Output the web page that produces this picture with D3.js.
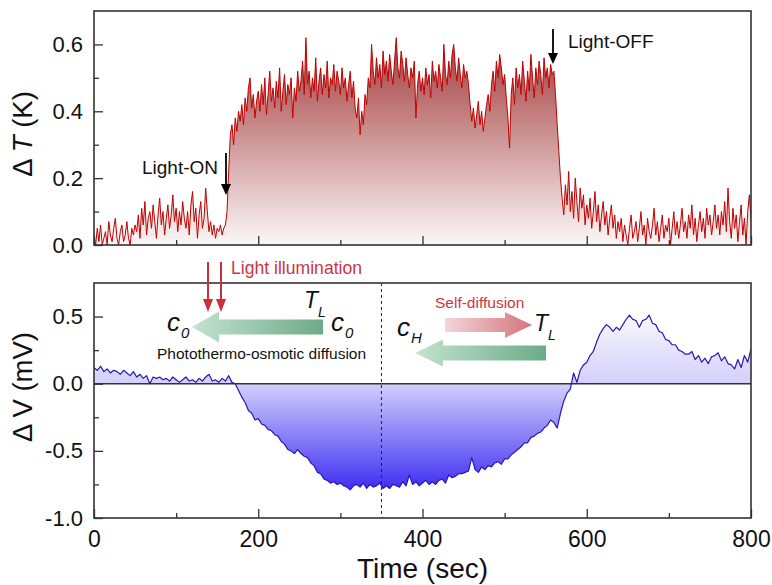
<!DOCTYPE html>
<html><head><meta charset="utf-8">
<script src="https://cdn.jsdelivr.net/npm/d3@7"></script>
<style>
html,body{margin:0;padding:0;background:#fff;}
svg{display:block;font-family:"Liberation Sans",Arial,sans-serif;}
</style></head>
<body>
<svg id="chart" width="772" height="585"></svg>
<script>
// ---------------- DATA ----------------
// Temperature change ΔT (K), sampled every 2 s from 0 to 800 s (rows of 20 s)
const dtStep = 2;
const deltaT = [
0.03,0.00,0.05,0.01,0.06,0.00,0.02,0.04,0.00,0.07,
0.03,0.01,0.05,0.08,0.02,0.00,0.04,0.06,0.01,0.03,
0.07,0.02,0.00,0.05,0.03,0.06,0.04,0.09,0.02,0.11,
0.06,0.13,0.03,0.08,0.10,0.05,0.12,0.07,0.02,0.09,
0.14,0.06,0.10,0.03,0.08,0.12,0.05,0.09,0.15,0.07,
0.11,0.04,0.10,0.06,0.13,0.08,0.05,0.10,0.03,0.12,
0.16,0.07,0.11,0.02,0.09,0.13,0.05,0.08,0.17,0.10,
0.04,0.07,0.03,0.06,0.02,0.05,0.04,0.06,0.03,0.05,
0.06,0.10,0.22,0.33,0.36,0.30,0.38,0.34,0.40,0.37,
0.42,0.36,0.44,0.40,0.47,0.50,0.41,0.45,0.38,0.43,
0.46,0.40,0.48,0.42,0.50,0.39,0.45,0.52,0.43,0.47,
0.41,0.49,0.44,0.53,0.40,0.46,0.51,0.42,0.48,0.45,
0.50,0.38,0.47,0.43,0.52,0.46,0.49,0.55,0.45,0.62,
0.48,0.52,0.44,0.50,0.46,0.56,0.43,0.49,0.53,0.45,
0.51,0.47,0.55,0.44,0.50,0.48,0.54,0.46,0.52,0.49,
0.45,0.53,0.47,0.50,0.43,0.48,0.52,0.44,0.49,0.41,
0.38,0.44,0.33,0.40,0.36,0.45,0.42,0.50,0.47,0.60,
0.52,0.48,0.56,0.50,0.54,0.47,0.58,0.51,0.55,0.49,
0.57,0.52,0.48,0.55,0.62,0.53,0.50,0.58,0.54,0.49,
0.56,0.51,0.47,0.53,0.50,0.55,0.38,0.48,0.52,0.46,
0.50,0.45,0.53,0.48,0.51,0.44,0.55,0.49,0.52,0.47,
0.54,0.50,0.46,0.60,0.51,0.48,0.55,0.50,0.57,0.60,
0.53,0.49,0.56,0.51,0.47,0.54,0.50,0.52,0.48,0.42,
0.37,0.41,0.35,0.39,0.43,0.36,0.40,0.34,0.38,0.42,
0.45,0.40,0.48,0.52,0.46,0.55,0.50,0.57,0.53,0.48,
0.51,0.44,0.38,0.29,0.45,0.50,0.42,0.53,0.47,0.51,
0.45,0.55,0.49,0.43,0.52,0.46,0.57,0.50,0.44,0.53,
0.48,0.55,0.51,0.45,0.56,0.50,0.53,0.47,0.54,0.51,
0.52,0.45,0.36,0.28,0.20,0.14,0.09,0.18,0.12,0.22,
0.10,0.16,0.08,0.20,0.13,0.07,0.17,0.11,0.15,0.06,
0.12,0.08,0.14,0.05,0.10,0.16,0.07,0.12,0.04,0.09,
0.13,0.06,0.10,0.03,0.08,0.12,0.05,0.09,0.02,0.07,
0.04,0.08,0.01,0.06,0.03,0.00,0.05,0.09,0.02,0.04,
0.07,0.01,0.05,0.10,0.03,0.06,0.00,0.08,0.04,0.02,
0.06,0.11,0.03,0.07,0.01,0.05,0.09,0.02,0.06,0.04,
0.08,0.00,0.05,0.10,0.03,0.07,0.02,0.06,0.11,0.04,
0.07,0.02,0.09,0.05,0.12,0.03,0.08,0.01,0.06,0.10,
0.04,0.08,0.02,0.11,0.06,0.09,0.03,0.07,0.12,0.05,
0.09,0.03,0.10,0.06,0.13,0.04,0.17,0.07,0.02,0.11,
0.05,0.09,0.01,0.07,0.12,0.03,0.08,0.00,0.10,0.15,
0.08
];
// Voltage change ΔV (mV), sampled every 4 s from 0 to 800 s (rows of 40 s)
const dvStep = 4;
const deltaV = [
0.12,0.10,0.13,0.09,0.11,0.08,0.10,0.09,0.07,0.10,
0.08,0.06,0.09,0.05,0.07,0.04,0.06,0.00,0.05,0.04,
0.05,0.03,0.04,0.02,0.05,0.03,0.01,0.03,0.05,0.02,
0.03,0.01,0.04,0.02,0.05,0.07,0.02,0.03,0.01,0.04,
0.02,0.06,0.01,0.00,-0.05,-0.10,-0.14,-0.20,-0.22,-0.27,
-0.26,-0.30,-0.31,-0.34,-0.35,-0.38,-0.39,-0.43,-0.45,-0.49,
-0.50,-0.52,-0.49,-0.52,-0.54,-0.55,-0.59,-0.61,-0.66,-0.67,
-0.71,-0.72,-0.74,-0.73,-0.75,-0.74,-0.76,-0.77,-0.79,-0.76,
-0.75,-0.77,-0.74,-0.78,-0.75,-0.77,-0.76,-0.74,-0.78,-0.76,
-0.78,-0.75,-0.76,-0.77,-0.73,-0.76,-0.68,-0.75,-0.73,-0.76,
-0.74,-0.72,-0.75,-0.73,-0.75,-0.72,-0.71,-0.74,-0.68,-0.70,
-0.69,-0.67,-0.67,-0.66,-0.65,-0.55,-0.64,-0.66,-0.62,-0.64,
-0.61,-0.62,-0.59,-0.58,-0.60,-0.56,-0.56,-0.53,-0.51,-0.49,
-0.47,-0.44,-0.44,-0.40,-0.39,-0.37,-0.36,-0.33,-0.31,-0.27,
-0.29,-0.33,-0.22,-0.13,-0.07,-0.04,0.08,0.01,0.10,0.14,
0.16,0.21,0.24,0.31,0.37,0.41,0.44,0.42,0.39,0.42,
0.40,0.44,0.48,0.51,0.48,0.47,0.42,0.47,0.48,0.51,
0.45,0.44,0.39,0.38,0.33,0.32,0.29,0.29,0.25,0.24,
0.22,0.22,0.24,0.18,0.21,0.16,0.19,0.15,0.20,0.21,
0.23,0.17,0.20,0.15,0.14,0.11,0.18,0.12,0.21,0.16,
0.26
];
const xTicks = [0, 200, 400, 600, 800];
const xMinorTicks = [100, 300, 500, 700];
const tTicks = [0.0, 0.2, 0.4, 0.6];
const tMinorTicks = [0.1, 0.3, 0.5];
const vTicks = [-1.0, -0.5, 0.0, 0.5];
const vMinorTicks = [-0.75, -0.25, 0.25];
const dividerTime = 350;

// ---------------- LAYOUT ----------------
const svg = d3.select("#chart");
const L = 94, R = 751;
const topP = {t: 11, b: 245};
const botP = {t: 283, b: 518};
const x = d3.scaleLinear().domain([0, 800]).range([L, R]);
const yT = d3.scaleLinear().domain([0, 0.7]).range([topP.b, topP.t]);
const yV = d3.scaleLinear().domain([-1, 0.75]).range([botP.b, botP.t]);

const tData = deltaT.map((v, i) => ({t: i * dtStep, v}));
const vData = deltaV.map((v, i) => ({t: i * dvStep, v}));

const defs = svg.append("defs");
function clip(id, y0, y1) {
  defs.append("clipPath").attr("id", id).append("rect")
    .attr("x", L).attr("y", y0).attr("width", R - L).attr("height", y1 - y0);
}
clip("clipT", topP.t, topP.b);
clip("clipV", botP.t, botP.b);

const gT = defs.append("linearGradient").attr("id", "gradT")
  .attr("gradientUnits", "userSpaceOnUse").attr("x1", 0).attr("x2", 0)
  .attr("y1", yT(0.6)).attr("y2", yT(0));
gT.append("stop").attr("offset", 0).attr("stop-color", "#a53e3e");
gT.append("stop").attr("offset", 1).attr("stop-color", "#fbf7f7");

const gV = defs.append("linearGradient").attr("id", "gradV")
  .attr("gradientUnits", "userSpaceOnUse").attr("x1", 0).attr("x2", 0)
  .attr("y1", yV(0.6)).attr("y2", yV(-0.8));
gV.append("stop").attr("offset", 0).attr("stop-color", "#ffffff");
gV.append("stop").attr("offset", 0.43).attr("stop-color", "#d2cffb");
gV.append("stop").attr("offset", 1).attr("stop-color", "#3b2cf2");

function arrowGrad(id, c0, c1) {
  const g = defs.append("linearGradient").attr("id", id)
    .attr("x1", 0).attr("x2", 1).attr("y1", 0).attr("y2", 0);
  g.append("stop").attr("offset", 0).attr("stop-color", c0);
  g.append("stop").attr("offset", 1).attr("stop-color", c1);
}
arrowGrad("gGreen", "#c4e2cf", "#6cab88");
arrowGrad("gRed", "#f2d6da", "#d5737d");

// ---------------- TOP PANEL ----------------
const topG = svg.append("g");
topG.append("path").datum(tData).attr("clip-path", "url(#clipT)")
  .attr("fill", "url(#gradT)")
  .attr("d", d3.area().x(d => x(d.t)).y0(yT(0)).y1(d => yT(Math.max(0, d.v))));
topG.append("path").datum(tData).attr("clip-path", "url(#clipT)")
  .attr("fill", "none").attr("stroke", "#c00000").attr("stroke-width", 1)
  .attr("stroke-linejoin", "round")
  .attr("d", d3.line().x(d => x(d.t)).y(d => yT(d.v)));

// ---------------- BOTTOM PANEL ----------------
const botG = svg.append("g");
botG.append("path").datum(vData).attr("clip-path", "url(#clipV)")
  .attr("fill", "url(#gradV)")
  .attr("d", d3.area().x(d => x(d.t)).y0(yV(0)).y1(d => yV(d.v)));
botG.append("line").attr("x1", L).attr("x2", R).attr("y1", yV(0)).attr("y2", yV(0))
  .attr("stroke", "#333").attr("stroke-width", 1.5);
botG.append("line").attr("x1", x(dividerTime)).attr("x2", x(dividerTime))
  .attr("y1", botP.t).attr("y2", botP.b)
  .attr("stroke", "#222").attr("stroke-width", 1).attr("stroke-dasharray", "3,3");
botG.append("path").datum(vData).attr("clip-path", "url(#clipV)")
  .attr("fill", "none").attr("stroke", "#2a17b0").attr("stroke-width", 1.2)
  .attr("stroke-linejoin", "round")
  .attr("d", d3.line().x(d => x(d.t)).y(d => yV(d.v)));

// ---------------- AXES ----------------
const fmt = d => d.toFixed(1);
function styleAxis(g, fs) {
  g.select(".domain").remove();
  g.selectAll(".tick line").attr("stroke", "#333").attr("stroke-width", 1.3);
  g.selectAll(".tick text").attr("fill", "#111").attr("font-size", fs)
    .attr("font-family", "'Liberation Sans', Arial, sans-serif");
}
// top
styleAxis(svg.append("g").attr("transform", `translate(${L},0)`)
  .call(d3.axisLeft(yT).tickValues(tTicks).tickFormat(fmt).tickSize(-9).tickPadding(11)), 22);
styleAxis(svg.append("g").attr("transform", `translate(${L},0)`)
  .call(d3.axisLeft(yT).tickValues(tMinorTicks).tickFormat("").tickSize(-5)), 22);
styleAxis(svg.append("g").attr("transform", `translate(0,${topP.b})`)
  .call(d3.axisBottom(x).tickValues(xTicks).tickFormat("").tickSize(-9)), 22);
styleAxis(svg.append("g").attr("transform", `translate(0,${topP.b})`)
  .call(d3.axisBottom(x).tickValues(xMinorTicks).tickFormat("").tickSize(-5)), 22);
// bottom
styleAxis(svg.append("g").attr("transform", `translate(${L},0)`)
  .call(d3.axisLeft(yV).tickValues(vTicks).tickFormat(fmt).tickSize(-9).tickPadding(11)), 22);
styleAxis(svg.append("g").attr("transform", `translate(${L},0)`)
  .call(d3.axisLeft(yV).tickValues(vMinorTicks).tickFormat("").tickSize(-5)), 22);
styleAxis(svg.append("g").attr("transform", `translate(0,${botP.b})`)
  .call(d3.axisBottom(x).tickValues(xTicks).tickFormat(d => String(d)).tickSize(-9).tickPadding(13)), 23);
styleAxis(svg.append("g").attr("transform", `translate(0,${botP.b})`)
  .call(d3.axisBottom(x).tickValues(xMinorTicks).tickFormat("").tickSize(-5)), 23);

// frames
[topP, botP].forEach(p => {
  svg.append("rect").attr("x", L).attr("y", p.t).attr("width", R - L).attr("height", p.b - p.t)
    .attr("fill", "none").attr("stroke", "#333").attr("stroke-width", 1.6);
});

// axis titles
const yl1 = svg.append("text").attr("transform", `translate(32,134) rotate(-90)`)
  .attr("text-anchor", "middle").attr("font-size", 27.5).attr("fill", "#111");
yl1.append("tspan").text("Δ ");
yl1.append("tspan").attr("font-style", "italic").text("T");
yl1.append("tspan").text(" (K)");
svg.append("text").attr("transform", `translate(32,387) rotate(-90)`)
  .attr("text-anchor", "middle").attr("font-size", 27.5).attr("fill", "#111").text("Δ V (mV)");
svg.append("text").attr("x", (L + R) / 2).attr("y", 578).attr("text-anchor", "middle")
  .attr("font-size", 28).attr("fill", "#111").text("Time (sec)");

// ---------------- ANNOTATIONS ----------------
function downArrow(xp, y0, y1, color, hw, hh, sw) {
  svg.append("line").attr("x1", xp).attr("x2", xp).attr("y1", y0).attr("y2", y1 - hh + 1)
    .attr("stroke", color).attr("stroke-width", sw);
  svg.append("path").attr("d", `M${xp - hw},${y1 - hh} L${xp + hw},${y1 - hh} L${xp},${y1} Z`)
    .attr("fill", color);
}
// Light-ON / Light-OFF
downArrow(226, 153, 195, "#000", 5, 11, 1.8);
svg.append("text").attr("x", 218).attr("y", 174).attr("text-anchor", "end")
  .attr("font-size", 19).attr("fill", "#111").text("Light-ON");
downArrow(553, 29, 64, "#000", 5, 11, 1.8);
svg.append("text").attr("x", 568).attr("y", 48)
  .attr("font-size", 19).attr("fill", "#111").text("Light-OFF");

// Light illumination
downArrow(208, 262, 312, "#c9303c", 5, 13, 2);
downArrow(221, 262, 312, "#c9303c", 5, 13, 2);
svg.append("text").attr("x", 231).attr("y", 274)
  .attr("font-size", 17.6).attr("fill", "#cf3542").text("Light illumination");

function blockArrow(tipX, tailX, cy, headX, headH, bodyH, fill) {
  const p = [
    [tipX, cy], [headX, cy - headH], [headX, cy - bodyH], [tailX, cy - bodyH],
    [tailX, cy + bodyH], [headX, cy + bodyH], [headX, cy + headH]
  ];
  svg.append("path").attr("d", "M" + p.map(q => q.join(",")).join("L") + "Z")
    .attr("fill", fill);
}
blockArrow(192, 323, 327, 219, 15.5, 7.5, "url(#gGreen)");
blockArrow(415, 546, 353, 443, 13.5, 7.5, "url(#gGreen)");
blockArrow(532, 445, 325, 505, 13, 7, "url(#gRed)");

function symbol(xp, yp, main, sub, fs, sfs, dx, dy) {
  const t = svg.append("text").attr("x", xp).attr("y", yp).attr("font-style", "italic")
    .attr("fill", "#111").attr("font-size", fs);
  t.append("tspan").text(main);
  t.append("tspan").attr("font-size", sfs).attr("dx", dx).attr("dy", dy).text(sub);
}
symbol(167, 331, "c", "0", 26, 15, 1, 7);
symbol(304, 308, "T", "L", 23, 14, 0, 9);
symbol(331, 331, "c", "0", 26, 15, 1, 7);
symbol(397, 336, "c", "H", 26, 15, 1, 7);
symbol(534, 331, "T", "L", 23, 14, 0, 9);

svg.append("text").attr("x", 157).attr("y", 359).attr("font-size", 15.5)
  .attr("fill", "#111").text("Photothermo-osmotic diffusion");
svg.append("text").attr("x", 435).attr("y", 308).attr("font-size", 15.5)
  .attr("fill", "#cf3542").text("Self-diffusion");
</script>
</body></html>
